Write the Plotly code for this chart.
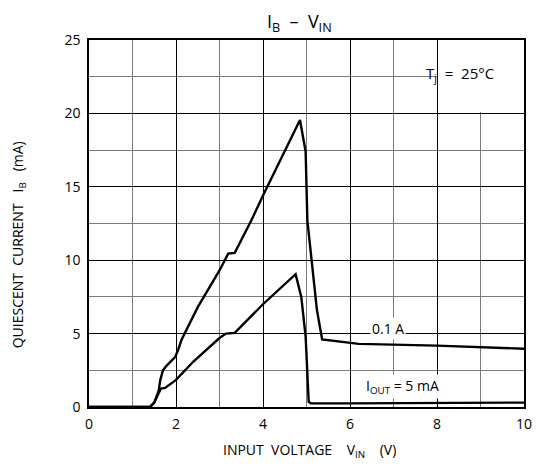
import plotly.graph_objects as go

# 0.1 A curve
v_hi = [0, 1.4, 1.5, 1.6, 1.64, 1.7, 1.78, 1.98, 2.05, 2.13, 2.5, 3.0, 3.2, 3.35, 3.73, 4.0, 4.85, 4.98, 5.02, 5.24, 5.36, 6.2, 8.0, 10.0]
i_hi = [0, 0, 0.3, 1.1, 1.85, 2.5, 2.8, 3.4, 3.9, 4.6, 6.8, 9.3, 10.45, 10.5, 12.7, 14.4, 19.55, 17.4, 12.7, 6.6, 4.6, 4.3, 4.18, 3.97]
# 5 mA curve
v_lo = [0, 1.4, 1.5, 1.6, 1.65, 1.75, 1.9, 2.0, 2.4, 3.0, 3.15, 3.35, 4.0, 4.75, 4.88, 4.98, 5.05, 5.1, 6.0, 10.0]
i_lo = [0, 0, 0.3, 0.9, 1.25, 1.3, 1.6, 1.85, 3.1, 4.7, 5.0, 5.05, 7.0, 9.05, 7.5, 4.8, 0.35, 0.25, 0.25, 0.3]

x_ticks = [0, 2, 4, 6, 8, 10]
y_ticks = [0, 5, 10, 15, 20, 25]

FONT = "Open Sans"

fig = go.Figure()
line = dict(color="black", width=2.4)
fig.add_trace(go.Scatter(x=v_hi, y=i_hi, mode="lines", line=line, showlegend=False))
fig.add_trace(go.Scatter(x=v_lo, y=i_lo, mode="lines", line=line, showlegend=False))

fig.update_layout(
    width=536, height=462,
    margin=dict(l=80.5, r=14, t=31.5, b=62.5),
    paper_bgcolor="white", plot_bgcolor="white",
    font=dict(family=FONT, color="black", size=14),
    shapes=[dict(type="rect", xref="x", yref="y", x0=8.03, x1=10, y0=20.1, y1=25,
                 fillcolor="white", line=dict(width=0), layer="between")],
    annotations=[
        dict(x=0.4836, y=1.048, xref="paper", yref="paper",
             text="I<sub>B</sub>  –  V<sub>IN</sub>", showarrow=False,
             font=dict(size=18, family=FONT, color="black"), xanchor="center", yanchor="middle"),
        dict(x=-0.160, y=0.4416, xref="paper", yref="paper",
             text="QUIESCENT  CURRENT   I<sub>B</sub>   (mA)", showarrow=False, textangle=-90,
             font=dict(size=14, family=FONT, color="black"), xanchor="center", yanchor="middle"),
        dict(x=0.506, y=-0.118, xref="paper", yref="paper",
             text="INPUT  VOLTAGE    V<sub>IN</sub>    (V)", showarrow=False,
             font=dict(size=14, family=FONT, color="black"), xanchor="center", yanchor="middle"),
        dict(x=8.53, y=22.7, xref="x", yref="y", text="T<sub>j</sub>  =  25°C", showarrow=False,
             font=dict(size=15, family=FONT, color="black")),
        dict(x=6.87, y=5.38, xref="x", yref="y", text="0.1 A", showarrow=False,
             font=dict(size=14, family=FONT, color="black"), bgcolor="white"),
        dict(x=7.21, y=1.37, xref="x", yref="y", text="I<sub>OUT</sub> = 5 mA", showarrow=False,
             font=dict(size=14, family=FONT, color="black"), bgcolor="white"),
    ],
)

fig.update_xaxes(range=[0, 10], tickvals=x_ticks, ticks="", showline=True, linecolor="black", linewidth=1.5,
                 mirror=True, showgrid=True, gridcolor="black", gridwidth=1, zeroline=False,
                 minor=dict(dtick=1, showgrid=True, gridcolor="#7a7a7a", gridwidth=1),
                 tickfont=dict(size=14), ticklabelstandoff=3)
fig.update_yaxes(range=[0, 25], tickvals=y_ticks, ticks="", showline=True, linecolor="black", linewidth=1.5,
                 mirror=True, showgrid=True, gridcolor="black", gridwidth=1, zeroline=False,
                 minor=dict(dtick=2.5, showgrid=True, gridcolor="#7a7a7a", gridwidth=1),
                 tickfont=dict(size=14), ticklabelstandoff=4)

fig.write_html("out.html")
